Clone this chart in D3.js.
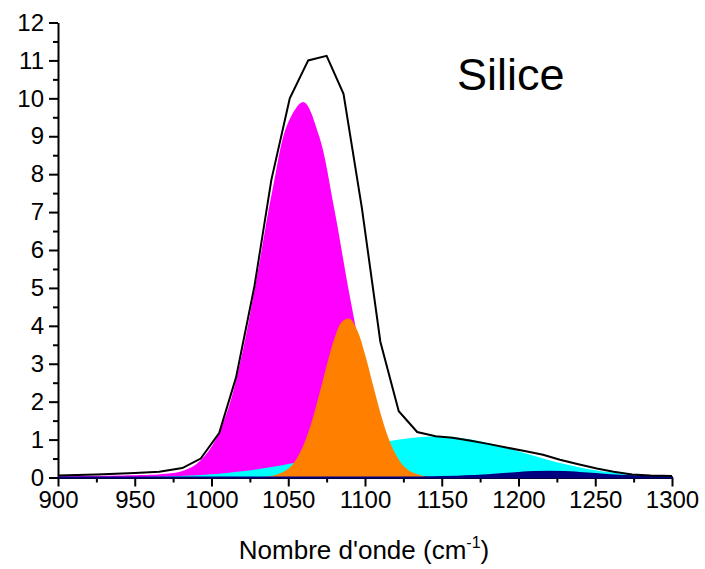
<!DOCTYPE html>
<html>
<head>
<meta charset="utf-8">
<script src="https://cdn.jsdelivr.net/npm/d3@7"></script>
<style>
  html, body { margin: 0; padding: 0; background: #fff; }
  svg { display: block; }
  text { font-family: "Liberation Sans", Arial, sans-serif; fill: #000; }
</style>
</head>
<body>
<svg id="chart" width="705" height="569"></svg>
<script>
// Measured IR spectrum (envelope) of silica, absorbance vs wavenumber (cm-1)
const envelopeX = [900, 925, 950, 966, 981, 993, 1005, 1016, 1028, 1039, 1051, 1063, 1075, 1086, 1098, 1110, 1122, 1134, 1146, 1157, 1169, 1181, 1192, 1204, 1216, 1227, 1239, 1251, 1262, 1274, 1286, 1300];
const envelopeY = [0.05, 0.08, 0.12, 0.15, 0.25, 0.50, 1.17, 2.64, 5.05, 7.85, 10.0, 11.0, 11.12, 10.12, 7.1, 3.58, 1.75, 1.2, 1.09, 1.05, 0.97, 0.88, 0.79, 0.70, 0.60, 0.47, 0.35, 0.235, 0.15, 0.08, 0.05, 0.04];

// Fitted component bands
const magentaX = [900, 920, 940, 960, 970, 980, 990, 1000, 1010, 1020, 1030, 1040, 1050, 1060, 1070, 1080, 1090, 1100, 1110, 1120, 1130, 1140, 1150, 1160, 1170];
const magentaY = [0.03, 0.04, 0.05, 0.07, 0.10, 0.16, 0.35, 0.81, 1.71, 3.27, 5.39, 7.65, 9.37, 9.90, 9.02, 7.08, 4.80, 2.81, 1.41, 0.62, 0.23, 0.075, 0.02, 0.005, 0];

const cyanX = [940, 960, 980, 1000, 1010, 1020, 1030, 1040, 1050, 1060, 1070, 1080, 1090, 1100, 1110, 1120, 1130, 1140, 1150, 1160, 1170, 1180, 1190, 1200, 1210, 1220, 1230, 1240, 1250, 1260, 1270, 1280, 1290, 1300];
const cyanY = [0, 0.019, 0.042, 0.087, 0.121, 0.164, 0.218, 0.283, 0.358, 0.443, 0.537, 0.635, 0.734, 0.829, 0.915, 0.987, 1.041, 1.072, 1.079, 1.055, 0.997, 0.912, 0.807, 0.691, 0.572, 0.458, 0.355, 0.267, 0.193, 0.136, 0.092, 0.061, 0.039, 0.024];

const orangeX = [1030, 1040, 1050, 1055, 1060, 1065, 1070, 1075, 1080, 1085, 1090, 1095, 1100, 1105, 1110, 1115, 1120, 1125, 1130, 1140, 1150];
const orangeY = [0, 0.043, 0.23, 0.47, 0.86, 1.43, 2.16, 2.95, 3.66, 4.11, 4.19, 3.88, 3.25, 2.47, 1.71, 1.07, 0.61, 0.31, 0.15, 0.024, 0];

const navyX = [900, 1100, 1130, 1140, 1150, 1160, 1170, 1180, 1190, 1200, 1210, 1220, 1230, 1240, 1250, 1260, 1270, 1280, 1290, 1300];
const navyY = [0, 0, 0.002, 0.004, 0.01, 0.02, 0.037, 0.062, 0.091, 0.12, 0.142, 0.15, 0.142, 0.12, 0.091, 0.062, 0.037, 0.02, 0.01, 0.004];

// Axis ticks
const xMajorTicks = [900, 950, 1000, 1050, 1100, 1150, 1200, 1250, 1300];
const xMinorTicks = [925, 975, 1025, 1075, 1125, 1175, 1225, 1275];
const yMajorTicks = [0, 1, 2, 3, 4, 5, 6, 7, 8, 9, 10, 11, 12];
const yMinorTicks = [0.5, 1.5, 2.5, 3.5, 4.5, 5.5, 6.5, 7.5, 8.5, 9.5, 10.5, 11.5];

const svg = d3.select("#chart");
const x = d3.scaleLinear().domain([900, 1300]).range([58, 672]);
const y = d3.scaleLinear().domain([0, 12]).range([477.5, 22.5]);

const zip = (xs, ys) => xs.map((v, i) => [v, ys[i]]);
const curve = d3.curveCatmullRom.alpha(0.5);

const area = d3.area().x(d => x(d[0])).y0(y(0)).y1(d => y(Math.max(0, d[1]))).curve(curve);

// Axes
const fontSize = 24;
const gx = svg.append("g").attr("transform", `translate(0,${y(0)})`);
gx.call(d3.axisBottom(x).tickValues(xMajorTicks).tickSize(9).tickSizeOuter(0).tickPadding(4).tickFormat(d3.format("d")));
gx.append("g").call(d3.axisBottom(x).tickValues(xMinorTicks).tickSize(5).tickFormat("")).select(".domain").remove();

const gy = svg.append("g").attr("transform", `translate(${x(900)},0)`);
gy.call(d3.axisLeft(y).tickValues(yMajorTicks).tickSize(9).tickSizeOuter(0).tickPadding(5).tickFormat(d3.format("d")));
gy.append("g").call(d3.axisLeft(y).tickValues(yMinorTicks).tickSize(5).tickFormat("")).select(".domain").remove();

svg.selectAll(".domain").attr("stroke", "#000").attr("stroke-width", 2);
svg.selectAll(".tick line").attr("stroke", "#000").attr("stroke-width", 2);
svg.selectAll(".tick text").attr("font-size", fontSize).attr("font-family", "Liberation Sans, Arial, sans-serif").attr("fill", "#000");

// Component bands, drawn in overlap order
svg.append("path").datum(zip(magentaX, magentaY)).attr("d", area).attr("fill", "#ff00ff");
svg.append("path").datum(zip(cyanX, cyanY)).attr("d", area).attr("fill", "#00ffff");
svg.append("path").datum(zip(orangeX, orangeY)).attr("d", area).attr("fill", "#ff8000");
svg.append("path").datum(zip(navyX, navyY)).attr("d", area).attr("fill", "#000080")
  .attr("stroke", "#000080").attr("stroke-width", 2);

// Measured envelope
const line = d3.line().x(d => x(d[0])).y(d => y(d[1]));
svg.append("path").datum(zip(envelopeX, envelopeY)).attr("d", line)
  .attr("fill", "none").attr("stroke", "#000").attr("stroke-width", 2).attr("stroke-linejoin", "miter");

// Labels
svg.append("text").attr("x", 457).attr("y", 90).attr("font-size", 45).text("Silice");

const xl = svg.append("text").attr("x", 364).attr("y", 559).attr("text-anchor", "middle").attr("font-size", 26);
xl.append("tspan").text("Nombre d'onde (cm");
xl.append("tspan").attr("font-size", 16).attr("dy", -11).text("-1");
xl.append("tspan").attr("dy", 11).text(")");
</script>
</body>
</html>
